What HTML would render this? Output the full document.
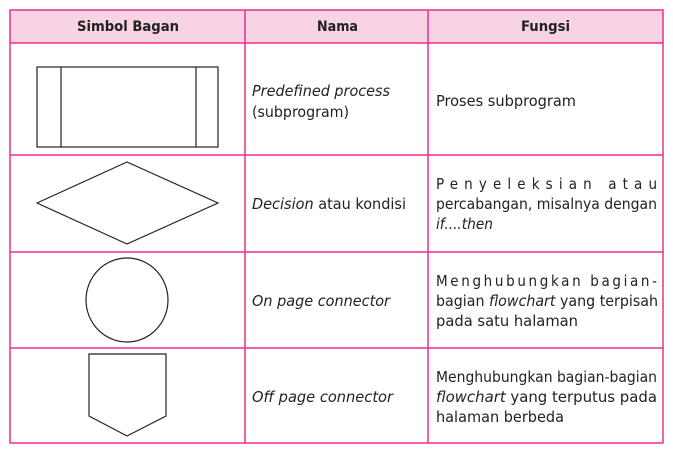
<!DOCTYPE html>
<html><head><style>
body{margin:0;background:#fff;}
svg text{font-family:"DejaVu Sans Condensed","Liberation Sans",sans-serif;font-size:15px;fill:#222;}
.h{font-weight:bold;font-size:14px;}
.i{font-style:italic;}
</style></head><body>
<svg width="673" height="452" xmlns="http://www.w3.org/2000/svg">
<rect x="10" y="10" width="653" height="33" fill="#f8d3e4"/>
<g stroke="#e8308f" stroke-width="1.5" fill="none">
<rect x="10" y="10" width="653" height="433"/>
<line x1="245" y1="10" x2="245" y2="443"/>
<line x1="428" y1="10" x2="428" y2="443"/>
<line x1="10" y1="43" x2="663" y2="43"/>
<line x1="10" y1="155" x2="663" y2="155"/>
<line x1="10" y1="252" x2="663" y2="252"/>
<line x1="10" y1="348" x2="663" y2="348"/>
</g>
<text class="h" x="77" y="31" textLength="102" lengthAdjust="spacingAndGlyphs">Simbol Bagan</text>
<text class="h" x="317" y="31" textLength="41" lengthAdjust="spacingAndGlyphs">Nama</text>
<text class="h" x="521" y="31" textLength="49" lengthAdjust="spacingAndGlyphs">Fungsi</text>
<g stroke="#222" stroke-width="1.2" fill="none">
<rect x="37" y="67" width="181" height="80"/>
<line x1="61" y1="67" x2="61" y2="147"/>
<line x1="196" y1="67" x2="196" y2="147"/>
<polygon points="37,203 127,162 218,203 127,244"/>
<ellipse cx="127" cy="300" rx="41" ry="42"/>
<polygon points="89,354 166,354 166,416 127,436 89,416"/>
</g>
<text class="i" x="252" y="96" textLength="138" lengthAdjust="spacingAndGlyphs">Predefined process</text>
<text x="252" y="117" textLength="97" lengthAdjust="spacingAndGlyphs">(subprogram)</text>
<text x="436" y="106" textLength="140" lengthAdjust="spacingAndGlyphs">Proses subprogram</text>
<text x="252" y="209" textLength="154" lengthAdjust="spacingAndGlyphs"><tspan class="i">Decision</tspan> atau kondisi</text>
<text x="436" y="189" textLength="221" lengthAdjust="spacing">Penyeleksian    atau</text>
<text x="436" y="209" textLength="221" lengthAdjust="spacingAndGlyphs">percabangan, misalnya dengan</text>
<text class="i" x="436" y="229" textLength="57" lengthAdjust="spacingAndGlyphs">if....then</text>
<text class="i" x="252" y="306" textLength="138" lengthAdjust="spacingAndGlyphs">On page connector</text>
<text x="436" y="286" textLength="221" lengthAdjust="spacing">Menghubungkan  bagian-</text>
<text x="436" y="306" textLength="222" lengthAdjust="spacingAndGlyphs">bagian <tspan class="i">flowchart</tspan> yang terpisah</text>
<text x="436" y="326" textLength="142" lengthAdjust="spacingAndGlyphs">pada satu halaman</text>
<text class="i" x="252" y="402" textLength="141" lengthAdjust="spacingAndGlyphs">Off page connector</text>
<text x="436" y="382" textLength="221" lengthAdjust="spacingAndGlyphs">Menghubungkan bagian-bagian</text>
<text x="436" y="402" textLength="221" lengthAdjust="spacingAndGlyphs"><tspan class="i">flowchart</tspan> yang terputus pada</text>
<text x="436" y="422" textLength="128" lengthAdjust="spacingAndGlyphs">halaman berbeda</text>
</svg>
</body></html>
